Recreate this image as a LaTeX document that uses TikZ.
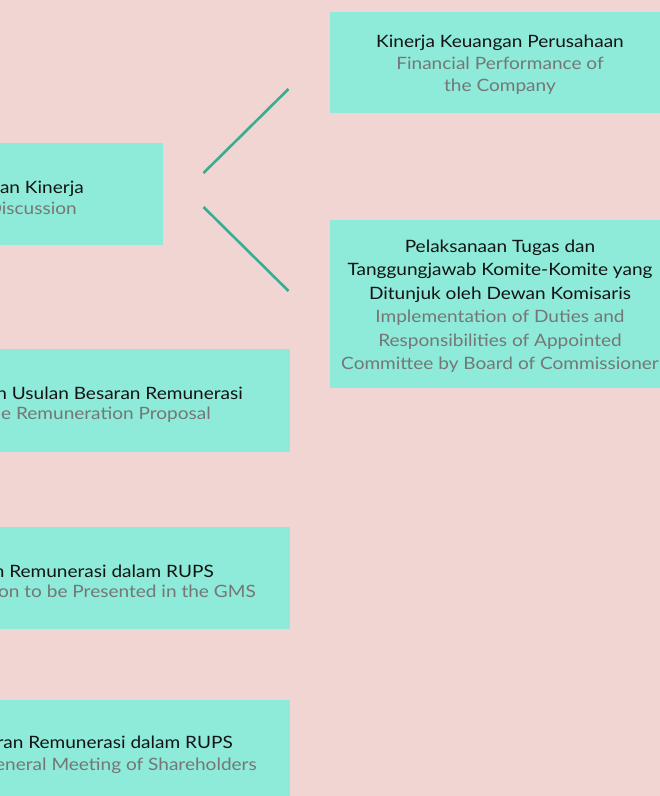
\documentclass[tikz,border=0pt]{standalone}
\usepackage{fontspec}
\setmainfont{Lato}[FakeStretch=1.12]
\usetikzlibrary{positioning}

\definecolor{bgpink}{RGB}{241,213,210}
\definecolor{boxteal}{RGB}{142,234,217}
\definecolor{linkteal}{RGB}{56,174,144}
\definecolor{engray}{RGB}{118,118,118}
\definecolor{idblack}{RGB}{20,20,20}

\tikzset{
  box/.style={fill=boxteal, inner sep=0pt},
  idtext/.style={text=idblack, inner sep=0pt, font=\fontsize{17}{22}\selectfont},
  entext/.style={text=engray, inner sep=0pt, font=\fontsize{17}{22}\selectfont},
  link/.style={draw=linkteal, line width=2.6pt},
}

\begin{document}
\begin{tikzpicture}[x=1pt,y=-1pt]%
\fill[bgpink] (0,0) rectangle (660,796);%
\useasboundingbox (0,0) rectangle (660,796);%
\clip (0,0) rectangle (660,796);%
% left column, cut off by the page edge
\node[box, minimum width=183pt, minimum height=102pt] (diskusi) at (71.5,194) {};%
\node[idtext, anchor=base east] (diskusi-id) at (84,193) {an Kinerja};%
\node[entext, anchor=base east] (diskusi-en) at (77,214) {Discussion};%
\node[box, minimum width=310pt, minimum height=103pt] (usulan) at (135,400.5) {};%
\node[idtext, anchor=base east] (usulan-id) at (243,399) {n Usulan Besaran Remunerasi};%
\node[entext, anchor=base east] (usulan-en) at (211,419) {e Remuneration Proposal};%
\node[box, minimum width=310pt, minimum height=102pt] (usulan-rups) at (135,578) {};%
\node[idtext, anchor=base east] (usulan-rups-id) at (214,577) {n Remunerasi dalam RUPS};%
\node[entext, anchor=base east] (usulan-rups-en) at (256,597) {on to be Presented in the GMS};%
\node[box, minimum width=310pt, minimum height=110pt] (rups) at (135,755) {};%
\node[idtext, anchor=base east] (rups-id) at (233,748) {ran Remunerasi dalam RUPS};%
\node[entext, anchor=base east] (rups-en) at (257,770) {eneral Meeting of Shareholders};%
% right column
\node[box, minimum width=340pt, minimum height=101pt] (keuangan) at (500,62.5) {};%
\node[idtext, align=center] (keuangan-txt) at (500,65) {Kinerja Keuangan Perusahaan\\%
  \textcolor{engray}{Financial Performance of}\\\textcolor{engray}{the Company}};%
\node[box, minimum width=340pt, minimum height=168pt] (komite) at (500,304) {};%
\node[idtext, align=center, font=\fontsize{17}{23.5}\selectfont] (komite-txt) at (500,306) {Pelaksanaan Tugas dan\\%
  Tanggungjawab Komite-Komite yang\\Ditunjuk oleh Dewan Komisaris\\%
  \textcolor{engray}{Implementation of Duties and}\\\textcolor{engray}{Responsibilities of Appointed}\\%
  \textcolor{engray}{Committee by Board of Commissioner}};%
% connectors
\coordinate (link-a1) at (203.5,173);%
\coordinate (link-a2) at (288.5,89);%
\coordinate (link-b1) at (203.5,207);%
\coordinate (link-b2) at (288.5,291);%
\draw[link] (link-a1) -- (link-a2);%
\draw[link] (link-b1) -- (link-b2);%
\end{tikzpicture}
\end{document}
